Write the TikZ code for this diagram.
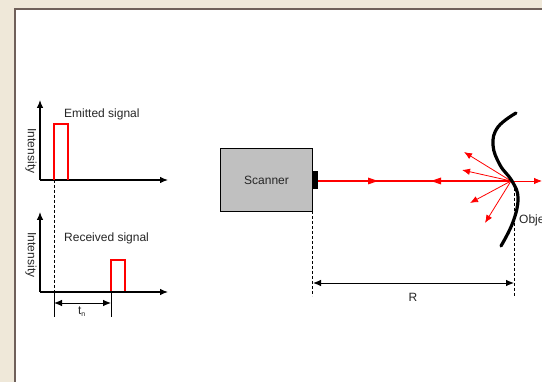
\documentclass[tikz,border=0pt]{standalone}
\usepackage{fontspec}
\setmainfont{Liberation Sans}
\usetikzlibrary{arrows.meta}
\definecolor{bgbeige}{HTML}{EFE8D9}
\definecolor{frame}{HTML}{6F605A}
\definecolor{scangray}{HTML}{C0C0C0}
\tikzset{
  axis/.style={line width=1.1pt,-{Latex[length=8pt,width=6.5pt]}},
  dimarrow/.style={line width=0.9pt,{Latex[length=8pt,width=6.5pt]}-{Latex[length=8pt,width=6.5pt]}},
  guide/.style={line width=0.7pt,dash pattern=on 3pt off 2pt},
  tick/.style={line width=0.7pt},
  pulse/.style={draw=red,line width=1.1pt},
  beam/.style={draw=red,line width=1.6pt},
  ray/.style={draw=red,line width=0.8pt,-{Latex[length=8pt,width=6.5pt]}},
  lbl/.style={font=\fontsize{12}{14}\selectfont,inner sep=0pt,text=black!85},
}
\begin{document}
\begin{tikzpicture}[x=1pt,y=-1pt]
\useasboundingbox (0,0) rectangle (542,382);
\fill[bgbeige] (0,0) rectangle (542,382);
\fill[white] (15,9) rectangle (542,382);
\draw[frame,line width=2pt] (15,382) -- (15,9) -- (542,9);
% ---- Emitted signal plot
\coordinate (e0) at (40,180);
\coordinate (ey) at (40,100);
\coordinate (ex) at (168,180);
\draw[axis] (e0) -- (ey);
\draw[axis] (e0) -- (ex);
\draw[pulse] (54,180) -- (54,124) -- (68,124) -- (68,180);
\node[lbl,anchor=west] (emit) at (64,114) {Emitted signal};
\node[lbl,rotate=-90] (int1) at (31,151) {Intensity};
% ---- Received signal plot
\coordinate (r0) at (40,292);
\coordinate (ry) at (40,212);
\coordinate (rx) at (168,292);
\draw[axis] (r0) -- (ry);
\draw[axis] (r0) -- (rx);
\draw[pulse] (111,291) -- (111,260) -- (125,260) -- (125,291);
\node[lbl,anchor=west] (recv) at (64,238) {Received signal};
\node[lbl,rotate=-90] (int2) at (31,255) {Intensity};
% ---- time of flight
\coordinate (ta) at (54,180);
\coordinate (tb) at (54,292);
\coordinate (tc) at (54,317);
\coordinate (td) at (111,292);
\coordinate (te) at (111,317);
\draw[guide] (ta) -- (tb);
\draw[tick] (tb) -- (tc);
\draw[tick] (td) -- (te);
\coordinate (tl) at (54,303);
\coordinate (tr) at (111,303);
\draw[dimarrow] (tl) -- (tr);
\node[lbl] (tn) at (82,312) {t\textsubscript{\fontsize{7}{8}\selectfont n}};
% ---- Scanner
\node[draw=black,fill=scangray,line width=1pt,minimum width=92pt,minimum height=63pt,inner sep=0pt,anchor=north west,lbl] (scan) at (220,148) {Scanner};
\fill[black] (312,171) rectangle (318,189);
\coordinate (lens) at (318,181);
\coordinate (hit) at (511,181);
\coordinate (beyond) at (542,181);
\draw[beam] (lens) -- (hit);
\draw[red,line width=0.8pt,-{Latex[length=8pt,width=6.5pt]}] (hit) -- (beyond);
\fill[red] (378,181) -- (368,177.5) -- (368,184.5) -- cycle;
\fill[red] (431,181) -- (441,177.5) -- (441,184.5) -- cycle;
% scattered rays
\coordinate (s1) at (464,152);
\coordinate (s2) at (462,170);
\coordinate (s3) at (470,203);
\coordinate (s4) at (485,223);
\draw[ray] (hit) -- (s1);
\draw[ray] (hit) -- (s2);
\draw[ray] (hit) -- (s3);
\draw[ray] (hit) -- (s4);
% object surface
\draw[black,line width=3.2pt,line cap=round] plot[smooth,tension=0.7] coordinates {(516,113) (498,127) (493,145) (500,165) (512,181) (518,198) (513,222) (501,246)};
\node[lbl,anchor=west] (obj) at (519,220) {Object};
% ---- distance R
\coordinate (ra) at (312,211);
\coordinate (rb) at (312,296);
\coordinate (rc) at (514,183);
\coordinate (rd) at (514,296);
\draw[guide] (ra) -- (rb);
\draw[guide] (rc) -- (rd);
\coordinate (rl) at (313,283);
\coordinate (rr) at (514,283);
\draw[dimarrow] (rl) -- (rr);
\node[lbl] (R) at (413,297) {R};
\end{tikzpicture}
\end{document}
